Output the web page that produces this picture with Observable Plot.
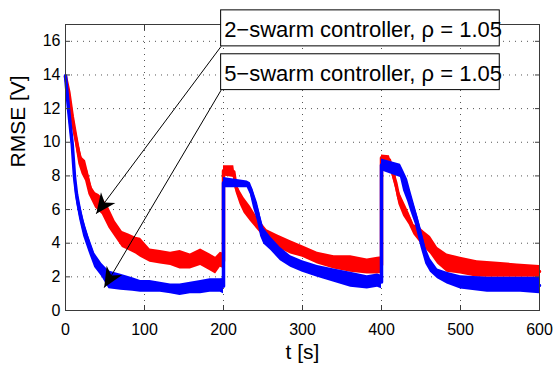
<!DOCTYPE html>
<html>
<head>
<meta charset="utf-8">
<script src="https://cdn.jsdelivr.net/npm/d3@7"></script>
<script src="https://cdn.jsdelivr.net/npm/@observablehq/plot@0.6"></script>
<style>
  html, body { margin: 0; padding: 0; background: #fff; }
  #chart { width: 554px; height: 365px; }
</style>
</head>
<body>
<div id="chart"></div>
<script>
// ---- data ----
const xTicks = [0, 100, 200, 300, 400, 500, 600];
const yTicks = [0, 2, 4, 6, 8, 10, 12, 14, 16];

// 2-swarm controller (red): time, lower edge, upper edge of the noisy band
const redT    = [0, 4.3, 8.5, 12.7, 16.9, 21, 25.4, 29.6, 33.8, 38, 42.3, 46.5, 55, 63, 72, 80, 89, 95, 107, 120, 133, 145, 158, 171, 183, 190, 196, 200,
                 200, 213, 216, 221, 226, 234, 243, 255, 268, 285, 300, 319, 340, 361, 382, 395, 400,
                 400, 410, 414, 418, 422, 428, 435, 441, 447, 454, 462, 471, 483, 500, 521, 547, 572, 600];
const redLow  = [13.7, 12.5, 10.9, 9.9, 8.7, 8.1, 7.7, 6.9, 6.5, 6.1, 5.9, 5.7, 4.9, 4.35, 3.75, 3.56, 3.36, 3.16, 2.87, 2.77, 2.67, 2.47, 2.47, 2.67, 2.37, 2.17, 2.57, 2.5,
                 8.0, 7.9, 7.0, 6.3, 5.8, 5.3, 4.8, 4.15, 3.75, 3.36, 3.16, 2.77, 2.47, 2.27, 2.17, 2.17, 2.2,
                 8.9, 8.7, 7.9, 7.2, 6.3, 5.6, 5.1, 4.5, 4.15, 3.75, 3.36, 2.77, 2.27, 2.17, 1.98, 1.98, 1.98, 1.98];
const redHigh = [14.1, 13.4, 12.2, 10.9, 9.9, 9.1, 8.9, 8.1, 7.3, 7.0, 6.9, 6.7, 6.1, 5.3, 4.7, 4.55, 4.35, 4.3, 3.66, 3.56, 3.46, 3.56, 3.36, 3.66, 3.36, 3.16, 3.46, 3.4,
                 8.6, 8.6, 7.6, 7.1, 6.7, 6.2, 5.5, 4.8, 4.5, 4.15, 3.85, 3.46, 3.26, 3.26, 3.06, 3.16, 3.2,
                 9.25, 9.2, 8.6, 8.0, 7.1, 6.5, 5.8, 5.1, 5.0, 4.7, 4.4, 3.75, 3.36, 3.16, 2.96, 2.87, 2.77, 2.67];

// 5-swarm controller (blue)
const blueT    = [0, 4, 8.5, 11.5, 14, 18, 23, 29.5, 37, 46, 55, 70, 85, 95, 107, 120, 133, 145, 158, 171, 183, 196, 200,
                  200, 230, 234, 238, 243, 247, 251, 260, 272, 285, 300, 319, 340, 361, 382, 395, 400,
                  400, 424, 428, 433, 437, 443, 450, 456, 462, 471, 483, 500, 534, 576, 600];
const blueLow  = [13.8, 11.5, 9.5, 7.4, 6.4, 5.4, 4.4, 3.5, 2.55, 2.0, 1.3, 1.2, 1.15, 1.09, 1.09, 1.09, 0.99, 0.89, 0.99, 1.0, 1.09, 1.09, 1.0,
                  7.3, 7.3, 6.9, 6.1, 5.3, 4.4, 3.95, 3.56, 2.96, 2.57, 2.27, 1.98, 1.68, 1.38, 1.28, 1.38, 1.3,
                  8.3, 7.9, 7.1, 6.5, 5.9, 5.1, 3.75, 2.77, 2.27, 1.88, 1.58, 1.28, 1.09, 1.09, 0.99];
const blueHigh = [14.1, 12.3, 10.3, 8.4, 7.4, 6.4, 5.4, 4.4, 3.4, 2.8, 2.35, 2.15, 1.95, 1.78, 1.78, 1.68, 1.58, 1.58, 1.68, 1.78, 1.88, 1.88, 1.9,
                  7.9, 7.7, 7.6, 7.1, 6.4, 5.6, 4.9, 4.35, 3.75, 3.26, 2.96, 2.67, 2.47, 2.27, 2.07, 2.17, 2.1,
                  9.0, 8.7, 8.3, 7.8, 7.1, 6.1, 4.9, 3.75, 3.06, 2.47, 2.27, 2.07, 1.98, 1.98, 1.98];

// annotations (data coordinates)
const noteLabels = ["2\u2212swarm controller, \u03c1 = 1.05", "5\u2212swarm controller, \u03c1 = 1.05"];
const noteBoxLeft = [197, 197];
const noteBoxRight = [549.7, 549.7];
const noteBoxBottom = [15.70, 13.10];
const noteBoxTop = [17.84, 15.23];
const noteTextV = [16.65, 14.04];
const arrowTipT = [38.9, 49.0];
const arrowTipV = [5.75, 1.36];

const xLabel = "t [s]";
const yLabel = "RMSE [V]";

// ---- build tables ----
const red = redT.map((t, i) => ({t, lo: redLow[i], hi: redHigh[i]}));
const blue = blueT.map((t, i) => ({t, lo: blueLow[i], hi: blueHigh[i]}));
const notes = noteLabels.map((label, i) => ({
  label, x1: noteBoxLeft[i], x2: noteBoxRight[i], y1: noteBoxBottom[i], y2: noteBoxTop[i],
  ty: noteTextV[i], tipT: arrowTipT[i], tipV: arrowTipV[i]
}));
const mid = d => (d.lo + d.hi) / 2;

const axisColor = "#3a3a3a";
const gridStyle = {stroke: "#555", strokeOpacity: 1, strokeWidth: 1, strokeDasharray: "1,5"};

const chart = Plot.plot({
  width: 554,
  height: 365,
  marginLeft: 65,
  marginRight: 15,
  marginTop: 24,
  marginBottom: 55,
  style: {fontFamily: "'Liberation Sans', Arial, Helvetica, sans-serif", fontSize: "16px", color: "#000", background: "#fff"},
  x: {domain: [0, 600], ticks: xTicks, label: null},
  y: {domain: [0, 17], ticks: yTicks, label: null},
  marks: [
    Plot.gridX(xTicks, gridStyle),
    Plot.gridY(yTicks, gridStyle),
    Plot.areaY(red, {x: "t", y1: "lo", y2: "hi", fill: "#ff0000", curve: "linear"}),
    Plot.line(red, {x: "t", y: mid, stroke: "#ff0000", strokeWidth: 3.5}),
    Plot.areaY(blue, {x: "t", y1: "lo", y2: "hi", fill: "#0000ff", curve: "linear"}),
    Plot.line(blue, {x: "t", y: mid, stroke: "#0000ff", strokeWidth: 3.5}),
    Plot.frame({stroke: axisColor, strokeWidth: 1}),
    Plot.axisX(xTicks, {anchor: "bottom", tickSize: -5, tickPadding: 18, stroke: axisColor, fill: "#000", label: null, fontSize: 16}),
    Plot.axisX(xTicks, {anchor: "top", tickSize: -5, tickFormat: () => "", stroke: axisColor, label: null}),
    Plot.axisY(yTicks, {anchor: "left", tickSize: -5, tickPadding: 10, stroke: axisColor, fill: "#000", label: null, fontSize: 16}),
    Plot.axisY(yTicks, {anchor: "right", tickSize: -5, tickFormat: () => "", stroke: axisColor, label: null}),
    Plot.link(notes, {x1: "x1", y1: "y1", x2: "tipT", y2: "tipV", stroke: "#000", strokeWidth: 1}),
    Plot.rect(notes, {x1: "x1", x2: "x2", y1: "y1", y2: "y2", fill: "#fff", stroke: "#000", strokeWidth: 1}),
    Plot.text(notes, {x: "x1", y: "ty", text: "label", textAnchor: "start", lineAnchor: "middle", dx: 3, fontSize: 22, fill: "#000"}),
    Plot.text([xLabel], {frameAnchor: "bottom", dy: 42, lineAnchor: "middle", fontSize: 21, fill: "#000"}),
    Plot.text([yLabel], {frameAnchor: "left", rotate: -90, dx: -55, lineAnchor: "top", fontSize: 21, fill: "#000"})
  ]
});

// filled MATLAB-style arrow heads on the annotation links
const svg = d3.select(chart);
const defs = svg.insert("defs", ":first-child");
defs.append("marker")
  .attr("id", "mhead")
  .attr("markerUnits", "userSpaceOnUse")
  .attr("viewBox", "-22 -11 24 22")
  .attr("markerWidth", 24)
  .attr("markerHeight", 22)
  .attr("refX", 0)
  .attr("refY", 0)
  .attr("orient", "auto")
  .append("path")
  .attr("d", "M0,0L-20,-9L-14,0L-20,9Z")
  .attr("fill", "#000");
svg.selectAll('g[aria-label="link"] path').attr("marker-end", "url(#mhead)");

document.getElementById("chart").appendChild(chart);
</script>
</body>
</html>
